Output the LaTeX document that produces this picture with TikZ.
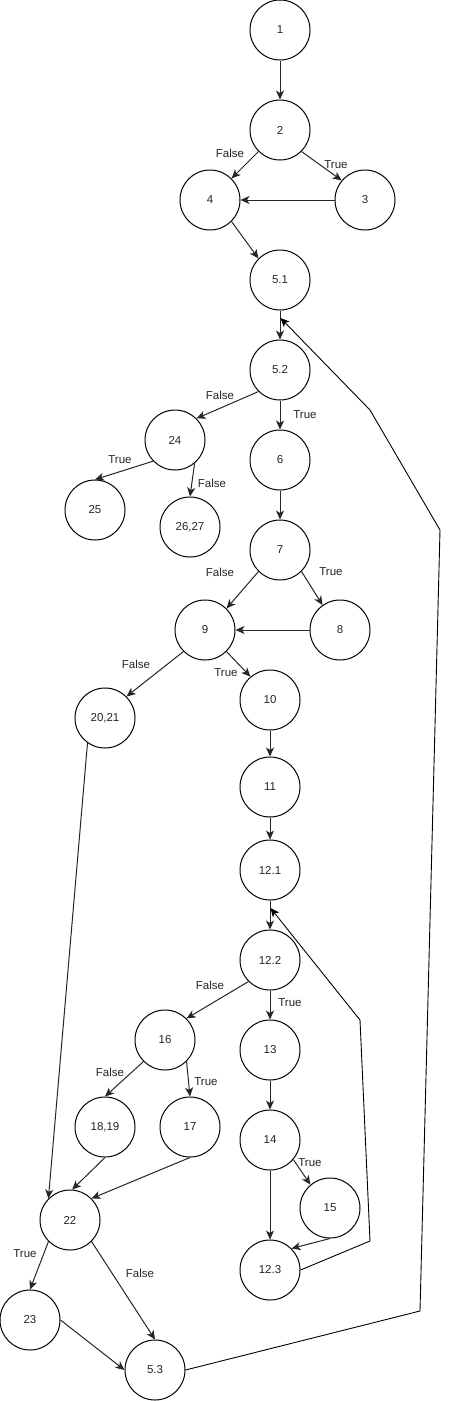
\documentclass[tikz,border=0pt]{standalone}
\usepackage{fontspec}
\setmainfont{Liberation Sans}
\usetikzlibrary{arrows.meta}
\begin{document}
\begin{tikzpicture}[x=1pt,y=-1pt,
  cnode/.style={circle,draw=black,line width=1pt,minimum size=60pt,inner sep=0pt,font=\fontsize{11.5}{13}\selectfont,text=black!85},
  edge/.style={draw=black!85,line width=1pt,-{Stealth[length=9pt,width=8pt,inset=2.5pt]}},
  back/.style={draw=black,line width=0.9pt,-{Stealth[length=9pt,width=8pt,inset=2.5pt]}},
  lbl/.style={font=\fontsize{11.5}{13}\selectfont,text=black!85,inner sep=0pt}]
\useasboundingbox[fill=white] (0,0) rectangle (449,1401);
% nodes
\node[cnode] (n1) at (280,30) {1};
\node[cnode] (n2) at (280,130) {2};
\node[cnode] (n4) at (210,200) {4};
\node[cnode] (n3) at (365,200) {3};
\node[cnode] (n51) at (280,280) {5.1};
\node[cnode] (n52) at (280,370) {5.2};
\node[cnode] (n24) at (175,440) {24};
\node[cnode] (n6) at (280,460) {6};
\node[cnode] (n25) at (95,510) {25};
\node[cnode] (n2627) at (190,527) {26,27};
\node[cnode] (n7) at (280,550) {7};
\node[cnode] (n9) at (205,630) {9};
\node[cnode] (n8) at (340,630) {8};
\node[cnode] (n2021) at (105,718) {20,21};
\node[cnode] (n10) at (270,700) {10};
\node[cnode] (n11) at (270,787) {11};
\node[cnode] (n121) at (270,870) {12.1};
\node[cnode] (n122) at (270,960) {12.2};
\node[cnode] (n16) at (165,1040) {16};
\node[cnode] (n13) at (270,1050) {13};
\node[cnode] (n1819) at (105,1127) {18,19};
\node[cnode] (n17) at (190,1127) {17};
\node[cnode] (n14) at (270,1140) {14};
\node[cnode] (n15) at (330,1208) {15};
\node[cnode] (n22) at (70,1220) {22};
\node[cnode] (n123) at (270,1270) {12.3};
\node[cnode] (n23) at (30,1320) {23};
\node[cnode] (n53) at (155,1370) {5.3};
% helper coordinates for back edges
\coordinate (t51) at (280.5,318);
\coordinate (b1) at (420,1311);
\coordinate (b2) at (440,530);
\coordinate (b3) at (370,410);
\coordinate (t121) at (270.5,908);
\coordinate (c1) at (370,1241);
\coordinate (c2) at (360,1020);
% edges
\draw[edge] (n1.south) -- (n2.north);
\draw[edge] (n2.225) -- (n4.45);
\draw[edge] (n2.-45) -- (n3.140);
\draw[edge] (n3.west) -- (n4.east);
\draw[edge] (n4.-45) -- (n51.135);
\draw[edge] (n51.south) -- (n52.north);
\draw[edge] (n52.225) -- (n24.45);
\draw[edge] (n52.south) -- (n6.north);
\draw[edge] (n24.224) -- (n25.north);
\draw[edge] (n24.-50) -- (n2627.north);
\draw[edge] (n6.south) -- (n7.north);
\draw[edge] (n7.225) -- (n9.45);
\draw[edge] (n7.-45) -- (n8.125);
\draw[edge] (n8.west) -- (n9.east);
\draw[edge] (n9.225) -- (n2021.45);
\draw[edge] (n9.-45) -- (n10.130);
\draw[edge] (n2021.235) -- (n22.135);
\draw[edge] (n10.south) -- (n11.north);
\draw[edge] (n11.south) -- (n121.north);
\draw[edge] (n121.south) -- (n122.north);
\draw[edge] (n122.225) -- (n16.45);
\draw[edge] (n122.south) -- (n13.north);
\draw[edge] (n16.225) -- (n1819.north);
\draw[edge] (n16.-45) -- (n17.north);
\draw[edge] (n1819.south) -- (n22.86);
\draw[edge] (n17.south) -- (n22.45);
\draw[edge] (n13.south) -- (n14.north);
\draw[edge] (n14.-40) -- (n15.130);
\draw[edge] (n14.south) -- (n123.north);
\draw[edge] (n15.south) -- (n123.45);
\draw[edge] (n22.225) -- (n23.north);
\draw[edge] (n22.-45) -- (n53.north);
\draw[edge] (n23.east) -- (n53.west);
\draw[back] (n123.east) -- (c1) -- (c2) -- (t121);
\draw[back] (n53.east) -- (b1) -- (b2) -- (b3) -- (t51);
% labels
\node[lbl] (l1) at (230,153) {False};
\node[lbl] (l2) at (336,165) {True};
\node[lbl] (l3) at (220,395) {False};
\node[lbl] (l4) at (305,415) {True};
\node[lbl] (l5) at (120,460) {True};
\node[lbl] (l6) at (212,483) {False};
\node[lbl] (l7) at (220,572) {False};
\node[lbl] (l8) at (331,572) {True};
\node[lbl] (l9) at (136,664) {False};
\node[lbl] (l10) at (226,673) {True};
\node[lbl] (l11) at (210,985) {False};
\node[lbl] (l12) at (290,1003) {True};
\node[lbl] (l13) at (110,1072) {False};
\node[lbl] (l14) at (206,1082) {True};
\node[lbl] (l15) at (310,1163) {True};
\node[lbl] (l16) at (25,1254) {True};
\node[lbl] (l17) at (140,1273) {False};
\end{tikzpicture}
\end{document}
